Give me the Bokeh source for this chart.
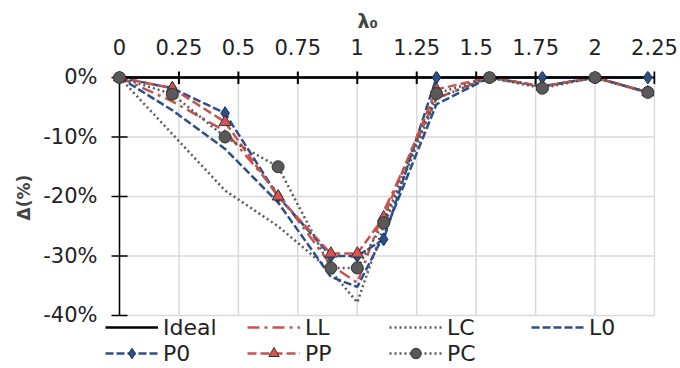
import numpy as np
from bokeh.plotting import figure
from bokeh.models import (Range1d, FixedTicker, NumeralTickFormatter, LinearAxis,
                          Legend, LegendItem, Title)
from bokeh.embed import file_html
from bokeh.resources import INLINE

# ---- data (percent) ----
lam = [0, 0.222, 0.444, 0.667, 0.889, 1.0, 1.111, 1.333, 1.556, 1.778, 2.0, 2.222]
ideal = [0, 0, 0, 0, 0, 0, 0, 0, 0, 0, 0, 0]
LL = [0, -4.0, -9.0, -19.5, -31.5, -34.5, -22.5, -3.5, 0, -1.5, 0, -2.5]
LC = [0, -9.5, -19.0, -25.0, -32.5, -37.8, -25.0, -3.5, 0, -1.5, 0, -2.5]
L0 = [0, -5.5, -12.0, -21.0, -33.5, -35.2, -26.5, -4.5, 0, -1.5, 0, -2.5]
P0 = [0, -1.8, -6.0, -20.0, -30.0, -30.0, -27.2, 0, 0, 0, 0, 0]
PP = [0, -1.8, -7.5, -20.0, -29.6, -29.6, -23.5, -2.0, 0, -1.5, 0, -2.5]
PC = [0, -2.8, -10.0, -15.0, -32.0, -32.0, -24.4, -2.7, 0, -1.8, 0, -2.5]

x_ticks = [0, 0.25, 0.5, 0.75, 1, 1.25, 1.5, 1.75, 2, 2.25]
x_tick_labels = ["0", "0.25", "0.5", "0.75", "1", "1.25", "1.5", "1.75", "2", "2.25"]
y_ticks = [0, -10, -20, -30, -40]

def frac(v):
    return (np.array(v, dtype=float) / 100.0).tolist()

BLUE = "#2C4F8C"
RED = "#C9524E"
RED_FILL = "#D9534F"
GRAY = "#595959"
GRID = "#d9d9d9"
FONT = "DejaVu Sans"

p = figure(width=680, height=368, output_backend="svg", toolbar_location=None,
           x_range=Range1d(-0.0589, 2.2542), y_range=Range1d(-0.48908, 0.01008),
           x_axis_location=None, y_axis_location=None,
           min_border_left=105, min_border_right=25, min_border_top=71, min_border_bottom=0)
p.outline_line_color = None
p.background_fill_color = "white"
p.xgrid.visible = False
p.ygrid.visible = False

yt = frac(y_ticks)
n_x, n_y = len(x_ticks), len(yt)

# grid lines limited to the axes' extent
p.segment(x0=x_ticks, y0=[yt[0]] * n_x, x1=x_ticks, y1=[yt[-1]] * n_x, line_color=GRID, line_width=1.5)
p.segment(x0=[x_ticks[0]] * n_y, y0=yt, x1=[x_ticks[-1]] * n_y, y1=yt, line_color=GRID, line_width=1.5)

# axes (labels only; lines and ticks are drawn through the origin below)
xax = LinearAxis(ticker=FixedTicker(ticks=x_ticks),
                 major_label_overrides={t: l for t, l in zip(x_ticks, x_tick_labels)})
xax.axis_line_alpha = 0
xax.major_tick_line_color = None
xax.minor_tick_line_color = None
xax.major_tick_in = 0
xax.major_tick_out = 0
xax.major_label_standoff = 17
xax.major_label_text_font = FONT
xax.major_label_text_font_size = "21px"
xax.major_label_text_color = "#222222"
p.add_layout(xax, "above")

yax = LinearAxis(ticker=FixedTicker(ticks=yt), formatter=NumeralTickFormatter(format="0%"))
yax.axis_line_alpha = 0
yax.major_tick_line_color = None
yax.minor_tick_line_color = None
yax.major_tick_in = 0
yax.major_tick_out = 0
yax.major_label_standoff = 8
yax.major_label_text_font = FONT
yax.major_label_text_font_size = "21px"
yax.major_label_text_color = "#222222"
p.add_layout(yax, "left")

title = Title(text="λ₀", align="left", offset=252, standoff=7,
              text_font=FONT, text_font_size="19px", text_font_style="bold")
p.add_layout(title, "above")

ytitle = Title(text="Δ(%)", align="left", offset=148, standoff=13,
               text_font=FONT, text_font_size="17px", text_font_style="bold")
p.add_layout(ytitle, "left")

# axis lines and ticks through the origin
p.segment(x0=[x_ticks[0]], y0=[yt[0]], x1=[x_ticks[0]], y1=[yt[-1]], line_color="black", line_width=1.5)
p.segment(x0=[x_ticks[0]], y0=[0], x1=[x_ticks[-1]], y1=[0], line_color="black", line_width=2)
p.scatter(x=[x_ticks[0]] * n_y, y=yt, marker="dash", size=16, line_color="black", line_width=1.5)
p.scatter(x=x_ticks, y=[0] * n_x, marker="dash", angle=np.pi / 2, size=13, line_color="black", line_width=2)

r_ll = p.line(lam, frac(LL), line_color=RED, line_width=2.5, line_dash="12 5 3 5")
r_lc = p.line(lam, frac(LC), line_color=GRAY, line_width=2.5, line_dash="2 3")
r_l0 = p.line(lam, frac(L0), line_color=BLUE, line_width=2.5, line_dash="8 3")
r_p0 = p.line(lam, frac(P0), line_color=BLUE, line_width=2.5, line_dash="8 3")
r_pp = p.line(lam, frac(PP), line_color=RED, line_width=2.5, line_dash="9 4")
r_pc = p.line(lam, frac(PC), line_color=GRAY, line_width=2.5, line_dash="2 3")
r_ideal = p.line(lam, frac(ideal), line_color="black", line_width=2.5)
m_p0 = p.scatter(lam, frac(P0), marker="diamond", size=13, fill_color=BLUE, line_color="#1a2f55", line_width=1)
m_pp = p.scatter(lam, frac(PP), marker="triangle", size=12, fill_color=RED_FILL, line_color="#333333", line_width=1)
m_pc = p.scatter(lam, frac(PC), marker="circle", size=12, fill_color=GRAY, line_color="#333333", line_width=1)

legend = Legend(items=[
    LegendItem(label="Ideal", renderers=[r_ideal]),
    LegendItem(label="LL", renderers=[r_ll]),
    LegendItem(label="LC", renderers=[r_lc]),
    LegendItem(label="L0", renderers=[r_l0]),
    LegendItem(label="P0", renderers=[r_p0, m_p0]),
    LegendItem(label="PP", renderers=[r_pp, m_pp]),
    LegendItem(label="PC", renderers=[r_pc, m_pc]),
], orientation="horizontal", ncols=4, location=(0, 2),
    glyph_width=53, glyph_height=26, label_height=24, label_width=84,
    label_standoff=5, spacing=0, padding=0, margin=0,
    border_line_alpha=0, background_fill_alpha=0,
    label_text_font=FONT, label_text_font_size="22px", label_text_color="#222222")
p.add_layout(legend)

open("out.html", "w").write(file_html(p, INLINE))
